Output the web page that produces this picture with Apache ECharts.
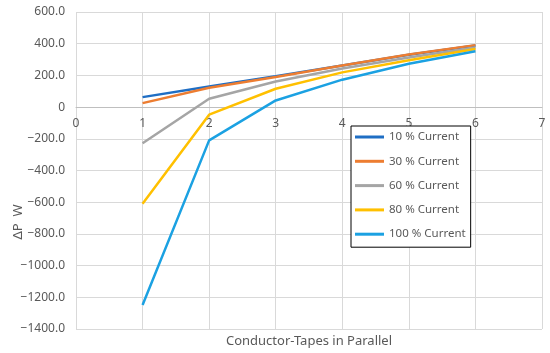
<!DOCTYPE html>
<html><head><meta charset="utf-8">
<script src="https://cdn.jsdelivr.net/npm/echarts@6/dist/echarts.min.js"></script>
<style>html,body{margin:0;padding:0;background:#fff}#c{width:550px;height:353px}</style>
</head><body><div id="c"></div>
<script>
const xValues = [1, 2, 3, 4, 5, 6];
const seriesNames = ['10 % Current', '30 % Current', '60 % Current', '80 % Current', '100 % Current'];
const s10 = [63, 130, 194, 263, 330, 389];
const s30 = [25, 122, 190, 262, 332, 391];
const s60 = [-228, 53, 162, 244, 313, 376];
const s80 = [-610, -48, 116, 219, 295, 366];
const s100 = [-1248, -210, 42, 173, 274, 353];
const colors = ['#1f6ec4', '#ed7d31', '#a5a5a5', '#ffc000', '#1ba1e2'];
const xTitle = 'Conductor-Tapes in Parallel';
const yTitle = 'ΔP  W';

const allData = [s10, s30, s60, s80, s100];
const font = 'Noto Sans';
const gridTop = 12, gridBottom = 24, H = 353;
const yMin = -1400, yMax = 600;
const plotH = H - gridTop - gridBottom;
const zeroOffset = -(plotH * (0 - yMin) / (yMax - yMin));
const chart = echarts.init(document.getElementById('c'), null, {renderer: 'canvas'});
chart.setOption({
  animation: false,
  backgroundColor: '#fff',
  textStyle: {fontFamily: font},
  grid: {left: 76, right: 8, top: gridTop, bottom: gridBottom, containLabel: false},
  xAxis: {
    type: 'value', min: 0, max: 7, interval: 1, position: 'bottom', offset: zeroOffset,
    axisLine: {show: true, onZero: false, lineStyle: {color: '#bfbfbf', width: 1}},
    axisTick: {show: false},
    axisLabel: {color: '#595959', fontSize: 12, fontFamily: font, margin: 10},
    splitLine: {show: true, lineStyle: {color: '#d9d9d9', width: 1}}
  },
  yAxis: {
    type: 'value', min: yMin, max: yMax, interval: 200,
    axisLine: {show: false, onZero: false},
    axisTick: {show: false},
    axisLabel: {color: '#595959', fontSize: 12, fontFamily: font, margin: 11,
      formatter: v => v === 0 ? '0' : (v < 0 ? '\u2212' + Math.abs(v).toFixed(1) : v.toFixed(1))},
    splitLine: {show: true, lineStyle: {color: '#d9d9d9', width: 1}}
  },
  legend: {
    orient: 'vertical', left: 351, top: 126,
    icon: 'rect', itemWidth: 29, itemHeight: 3, itemGap: 10.3,
    padding: [4, 5, 6, 4],
    borderColor: '#000', borderWidth: 1, backgroundColor: '#fff',
    textStyle: {color: '#595959', fontSize: 11.5, fontFamily: font, lineHeight: 14},
    data: seriesNames
  },
  graphic: [
    {type: 'text', x: 309, y: 341,
      style: {text: xTitle, fill: '#595959', font: '13px "Noto Sans"', align: 'center', verticalAlign: 'middle'}},
    {type: 'text', x: 18, y: 222, rotation: Math.PI / 2,
      style: {text: yTitle, fill: '#595959', font: '13px "Noto Sans"', align: 'center', verticalAlign: 'middle'}}
  ],
  series: seriesNames.map((name, i) => ({
    name: name, type: 'line', showSymbol: false, symbol: 'none',
    lineStyle: {color: colors[i], width: 2.5},
    itemStyle: {color: colors[i]},
    data: xValues.map((x, j) => [x, allData[i][j]])
  }))
});
</script></body></html>
